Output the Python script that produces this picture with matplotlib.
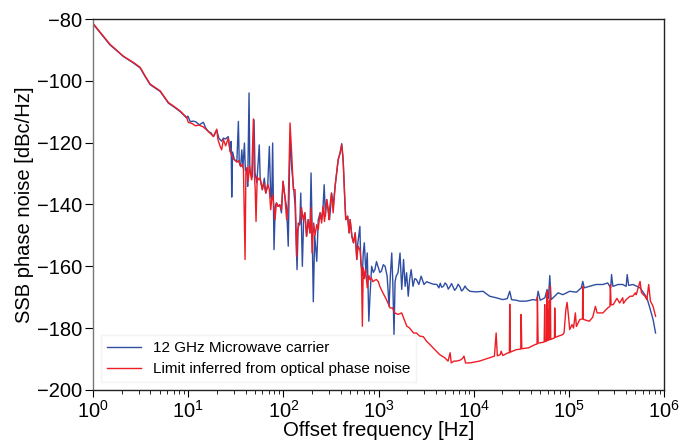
import numpy as np
import matplotlib
matplotlib.use("Agg")
import matplotlib.pyplot as plt
from matplotlib.ticker import LogLocator, NullFormatter

plt.rcParams["font.family"] = ["Liberation Sans", "DejaVu Sans"]
plt.rcParams["mathtext.fontset"] = "custom"
plt.rcParams["mathtext.rm"] = "Liberation Sans"
plt.rcParams["mathtext.it"] = "Liberation Sans:italic"

# ---- data (offset frequency [Hz], SSB phase noise [dBc/Hz])
blue_f = [
    1.0, 1.5, 2.08, 2.65, 3.12, 3.52, 3.97, 5.06, 6.18, 6.98, 8.2, 9.6,
    9.9, 10.5, 11.3, 12.1, 13.0, 14.4, 15.2, 16.3, 17.3, 18.4, 19.9, 21.0,
    22.4, 23.4, 24.7, 26.3, 27.5, 28.2, 28.6, 29.2, 30.5, 32.4, 33.6, 34.3,
    35.5, 36.5, 37.5, 38.9, 39.8, 41.3, 42.1, 43.5, 44.3, 45.5, 47.0, 49.1,
    50.3, 52.5, 55.7, 57.0, 60.0, 63.0, 65.2, 68.3, 71.1, 73.5, 75.3, 77.0,
    79.6, 82.0, 84.4, 87.8, 91.6, 95.3, 99.0, 103.5, 108.0, 112.3, 117.3, 122,
    128, 132.5, 139, 143, 148.5, 152, 158, 163, 168, 175, 182, 190,
    195, 200, 206, 213, 224, 232, 243, 252, 261, 268, 276, 285,
    295, 305, 313, 320, 335, 349, 362, 376, 394, 410, 424, 443,
    452, 473, 490, 502, 524, 545, 568, 590, 600, 636, 650, 675,
    690, 708, 735, 760, 790, 811, 845, 880, 915, 950, 994, 1030,
    1070, 1120, 1170, 1230, 1290, 1330, 1375, 1410, 1452, 1490, 1530, 1600,
    1680, 1750, 1830, 1900, 1970, 2050, 2120, 2200, 2300, 2400, 2500, 2650,
    2800, 3000, 3200, 3450, 3750, 4100, 4300, 4450, 4600, 4800, 5000, 5200,
    5400, 5650, 5850, 6100, 6300, 6600, 6850, 7150, 7450, 7750, 8100, 8400,
    9100, 10600, 12500, 14700, 17200, 20200, 22500, 23900, 25000, 28000, 30400, 35700,
    41800, 46000, 47500, 50000, 56000, 59000, 61000, 63000, 65000, 68300, 77000, 86500,
    102000, 120000, 135000, 140000, 145000, 164000, 193000, 228000, 256000, 275000, 281000, 290000,
    330000, 368000, 400000, 410000, 425000, 470000, 520000, 560000, 610000, 660000, 710000, 768000,
    815000,
]
blue_db = [
    -81.6, -88.3, -92.1, -94.2, -95.8, -98.6, -101.2, -103.4, -107.2, -108.3, -109.9, -112.0,
    -111.4, -113.2, -113.0, -113.3, -114.2, -113.4, -115.2, -116.4, -116.8, -118.0, -116.0, -118.6,
    -119.5, -118.5, -118.8, -118.0, -122.8, -119.6, -137.6, -123.0, -125.5, -126.0, -113.1, -126.5,
    -127.7, -122.3, -128.0, -120.1, -129.0, -128.7, -134.1, -103.9, -128.5, -130.0, -131.2, -112.6,
    -129.8, -133.0, -120.7, -132.0, -135.2, -131.5, -136.3, -134.1, -121.2, -137.5, -138.4, -120.1,
    -154.6, -140.5, -139.5, -140.6, -140.1, -142.7, -132.5, -137.4, -141.0, -153.5, -118.0, -128.0,
    -135.0, -140.0, -161.1, -146.0, -146.5, -136.3, -160.0, -145.0, -142.7, -150.3, -144.9, -149.2,
    -129.8, -147.0, -171.5, -150.0, -158.4, -145.0, -142.7, -144.9, -140.6, -133.6, -143.8, -138.4,
    -141.7, -144.9, -141.1, -136.3, -140.0, -134.1, -129.8, -125.5, -123.3, -120.3, -125.5, -139.5,
    -144.9, -143.8, -149.2, -144.9, -150.3, -152.4, -149.2, -157.8, -153.5, -147.1, -158.9, -163.0,
    -155.7, -152.4, -162.1, -155.7, -177.8, -170.0, -160.0, -162.0, -161.1, -158.5, -160.5, -162.0,
    -161.6, -159.5, -160.0, -163.2, -173.0, -163.0, -155.7, -165.0, -182.1, -165.0, -163.2, -162.1,
    -155.7, -167.5, -157.8, -166.5, -162.1, -169.7, -164.3, -161.1, -166.5, -164.0, -164.3, -165.9,
    -163.2, -165.9, -165.0, -165.4, -165.8, -165.9, -167.0, -165.5, -166.8, -166.5, -165.4, -166.0,
    -167.4, -166.5, -165.6, -166.8, -167.8, -167.0, -165.8, -166.6, -168.0, -167.5, -166.4, -167.2,
    -168.1, -168.3, -168.1, -169.7, -170.2, -170.8, -170.5, -168.1, -170.8, -171.0, -171.3, -171.3,
    -170.8, -171.0, -168.1, -171.0, -170.2, -167.5, -170.5, -163.0, -170.8, -170.2, -168.6, -169.2,
    -168.1, -168.4, -167.0, -164.9, -167.0, -166.5, -165.9, -165.9, -165.4, -167.0, -162.7, -166.5,
    -165.9, -165.9, -166.5, -162.7, -166.2, -165.9, -166.5, -167.0, -168.6, -170.2, -173.5, -177.3,
    -181.6,
]

red_f = [
    1.0, 1.5, 2.08, 2.65, 3.12, 3.52, 3.97, 5.06, 6.18, 6.98, 8.2, 9.6,
    10.0, 11.0, 11.8, 13.0, 14.4, 16.3, 18.4, 19.9, 20.5, 21.5, 22.4, 23.4,
    24.7, 26.3, 27.5, 29.0, 30.5, 32.4, 34.0, 35.5, 37.0, 38.0, 39.5, 40.3,
    41.3, 42.5, 44.0, 45.0, 46.3, 48.3, 49.5, 50.5, 51.5, 53.0, 55.0, 57.0,
    60.0, 62.0, 65.2, 68.3, 71.0, 73.5, 75.3, 77.5, 81.5, 84.4, 87.8, 91.6,
    95.3, 99.0, 103.5, 108.0, 112.3, 117.3, 122, 127, 132.5, 135, 137.5, 141,
    148.5, 155, 161, 168, 175, 182, 190, 195, 200, 208, 215, 224,
    232, 243, 252, 261, 270, 285, 295, 300, 306, 320, 333, 349,
    362, 376, 394, 410, 424, 443, 452, 473, 490, 502, 524, 545,
    568, 590, 610, 640, 660, 675, 690, 710, 730, 760, 790, 811,
    840, 870, 915, 950, 994, 1030, 1110, 1210, 1320, 1400, 1480, 1600,
    1750, 1830, 1980, 2100, 2330, 2500, 2700, 2950, 3200, 3450, 3900, 4380,
    4950, 5370, 5650, 5800, 6200, 6600, 7200, 7600, 7900, 8200, 9100, 11500,
    14700, 16500, 17200, 17700, 19000, 19400, 20200, 23000, 23700, 23900, 24300, 28000,
    31200, 31500, 32000, 37700, 44500, 46300, 46700, 47500, 52000, 55000, 55700, 56500,
    58500, 59000, 59700, 61000, 61500, 62200, 63400, 63900, 64500, 70500, 71000, 72000,
    86500, 89000, 93000, 95800, 99000, 102000, 108000, 112000, 117000, 120000, 130000, 139000,
    140000, 142000, 164000, 178000, 190000, 198000, 228000, 256000, 270000, 273000, 278000, 293000,
    320000, 342000, 368000, 375000, 400000, 440000, 470000, 500000, 510000, 560000, 580000, 630000,
    660000, 690000, 720000, 768000, 815000,
]
red_db = [
    -81.4, -88.1, -92.0, -94.0, -95.6, -98.4, -101.0, -103.2, -107.0, -108.1, -109.7, -111.8,
    -113.4, -113.8, -114.5, -114.3, -114.9, -116.4, -118.0, -115.6, -119.0, -121.0, -122.3, -119.0,
    -121.0, -118.5, -122.8, -124.5, -125.5, -126.3, -125.8, -127.7, -127.0, -128.7, -157.8, -129.5,
    -128.0, -132.5, -127.5, -130.0, -132.0, -112.3, -130.5, -135.2, -145.5, -131.0, -132.0, -131.5,
    -135.2, -133.0, -136.3, -133.5, -135.0, -141.7, -138.4, -137.0, -144.9, -139.5, -140.6, -140.1,
    -141.7, -132.5, -137.4, -144.9, -140.0, -113.6, -123.3, -135.2, -135.2, -144.9, -156.8, -148.0,
    -146.0, -141.0, -144.9, -142.7, -150.3, -144.9, -149.2, -141.0, -155.7, -146.0, -150.0, -146.5,
    -148.1, -142.7, -146.0, -140.6, -145.5, -138.4, -141.7, -144.9, -141.1, -136.3, -142.7, -134.1,
    -129.8, -125.5, -123.3, -120.7, -125.5, -139.5, -144.9, -143.8, -149.2, -144.9, -150.3, -152.4,
    -149.2, -157.8, -153.5, -155.0, -160.0, -179.4, -160.5, -164.0, -161.0, -167.0, -163.0, -164.3,
    -163.8, -165.0, -164.5, -164.3, -165.0, -166.5, -168.6, -170.8, -173.5, -173.5, -175.1, -175.6,
    -175.1, -176.7, -179.4, -179.9, -181.6, -181.6, -182.6, -182.8, -184.3, -185.3, -187.0, -188.6,
    -189.6, -190.7, -188.0, -191.3, -190.7, -190.7, -190.4, -189.9, -189.1, -191.3, -191.3, -190.7,
    -189.6, -189.1, -181.6, -189.0, -188.6, -187.5, -188.9, -188.0, -188.0, -172.3, -187.8, -187.0,
    -186.8, -175.6, -186.7, -186.4, -185.3, -185.2, -170.0, -184.9, -184.7, -184.5, -172.4, -184.4,
    -184.2, -168.1, -184.0, -174.0, -183.9, -171.0, -183.8, -166.5, -183.7, -183.2, -173.5, -183.0,
    -182.1, -181.5, -174.0, -171.7, -176.0, -180.5, -178.9, -180.0, -175.1, -179.5, -177.3, -177.0,
    -166.5, -177.2, -177.8, -176.5, -173.0, -175.1, -175.1, -173.5, -173.0, -166.0, -172.5, -172.4,
    -170.4, -171.9, -170.2, -172.0, -170.8, -169.7, -169.7, -168.6, -169.2, -164.9, -168.6, -169.7,
    -170.8, -165.9, -171.3, -173.0, -176.2,
]

labels = ["12 GHz Microwave carrier", "Limit inferred from optical phase noise"]
colors = ["#2f4ea3", "#ee1d25"]
xticks = [1e0, 1e1, 1e2, 1e3, 1e4, 1e5, 1e6]
yticks = [-200, -180, -160, -140, -120, -100, -80]

fig = plt.figure(figsize=(6.8, 4.46), dpi=100)
ax = fig.add_axes([0.137, 0.126, 0.8395, 0.831])

ax.plot(blue_f, blue_db, color=colors[0], lw=1.0, label=labels[0])
ax.plot(red_f, red_db, color=colors[1], lw=1.0, label=labels[1])

ax.set_xscale("log")
ax.set_xlim(1, 1e6)
ax.set_ylim(-200, -80)
ax.set_xticks(xticks)
ax.xaxis.set_minor_locator(LogLocator(base=10, subs=np.arange(2, 10), numticks=20))
ax.xaxis.set_minor_formatter(NullFormatter())
ax.set_yticks(yticks)

ax.tick_params(axis="both", which="major", direction="out", labelsize=14.5, width=0.8)
ax.tick_params(axis="y", which="major", length=6, pad=2)
ax.tick_params(axis="x", which="major", length=5, pad=2)
ax.tick_params(axis="x", which="minor", direction="out", length=3, width=0.6)
ax.tick_params(axis="y", which="minor", left=False)

for side in ["top", "right", "bottom"]:
    ax.spines[side].set_color("#222222")
ax.spines["left"].set_color("#777777")
for sp in ax.spines.values():
    sp.set_linewidth(1.0)

ax.set_xlabel("Offset frequency [Hz]", fontsize=14.7, labelpad=0)
ax.set_ylabel("SSB phase noise [dBc/Hz]", fontsize=14.5, labelpad=2)

leg = ax.legend(loc="lower left", fontsize=11, handlelength=2.2, handletextpad=0.8,
                borderaxespad=0.5, labelspacing=0.45,
                frameon=True, fancybox=False, edgecolor="#f3f3f3", framealpha=1.0)

fig.savefig("out.png", dpi=100)
